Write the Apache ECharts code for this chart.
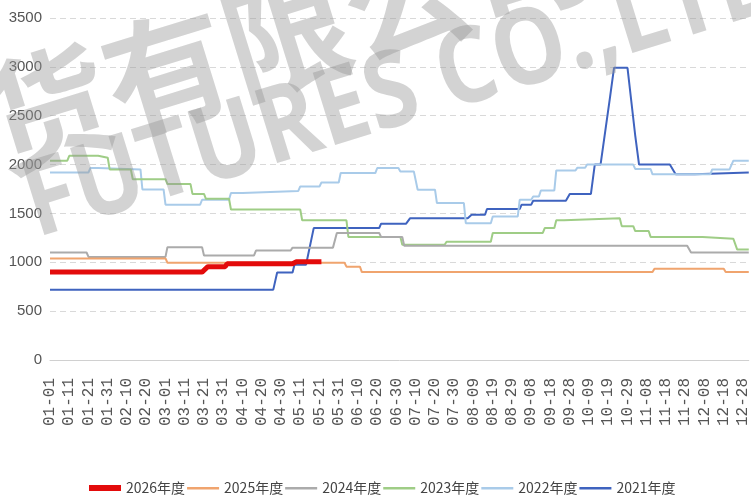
<!DOCTYPE html>
<html>
<head>
    <meta charset="utf-8" />
    <title>年度价格对比</title>
    <script src="https://cdn.jsdelivr.net/npm/echarts@6/dist/echarts.min.js"></script>
    <style type="text/css">
        html, body { margin: 0; padding: 0; background: #fff; }
        #chart { width: 751px; height: 503px; }
    </style>
</head>
<body>
    <div id="chart"></div>
    <script>
        // 图例名称
        var seriesNames = ['2026年度', '2025年度', '2024年度', '2023年度', '2022年度', '2021年度'];
        var seriesColors = ['#e30b0b', '#f0a46e', '#ababab', '#9fcd86', '#a9cbe9', '#3f63bf'];

        // 分段数据: [起始序号, 结束序号, 数值]，序号对应下面的日期类目
        var s2026 = [[0, 79, 900], [82, 91, 955], [92, 126, 985], [128, 141, 1005]];
        var s2025 = [[0, 60, 1040], [61, 153, 995], [154, 161, 955], [162, 313, 900], [314, 350, 935], [351, 363, 900]];
        var s2024 = [[0, 19, 1100], [20, 60, 1055], [61, 79, 1155], [80, 106, 1070], [107, 125, 1120], [126, 147, 1150],
            [149, 171, 1300], [172, 183, 1260], [184, 331, 1170], [333, 363, 1100]];
        var s2023 = [[0, 9, 2040], [10, 25, 2090], [26, 30, 2070], [31, 42, 1950], [43, 60, 1850], [61, 73, 1800],
            [74, 80, 1700], [81, 93, 1650], [94, 130, 1540], [131, 154, 1430], [155, 182, 1260], [183, 205, 1180],
            [206, 229, 1210], [230, 256, 1300], [257, 262, 1350], [263, 267, 1430], [268, 296, 1450], [297, 303, 1370],
            [304, 311, 1320], [312, 339, 1260], [340, 355, 1240], [357, 363, 1130]];
        var s2022 = [[0, 20, 1920], [21, 25, 1965], [26, 47, 1950], [48, 59, 1745], [60, 78, 1590], [79, 93, 1640],
            [94, 100, 1710], [101, 129, 1730], [130, 140, 1776], [141, 150, 1817], [151, 169, 1913], [170, 181, 1965],
            [182, 189, 1930], [191, 200, 1743], [201, 215, 1606], [216, 229, 1400], [230, 243, 1469], [244, 250, 1640],
            [251, 254, 1674], [255, 262, 1735], [263, 273, 1940], [274, 278, 1968], [279, 303, 2000], [304, 312, 1955],
            [313, 343, 1900], [344, 353, 1950], [355, 363, 2040]];
        var s2021 = [[0, 116, 720], [118, 126, 895], [127, 133, 975], [137, 171, 1350], [172, 185, 1395], [187, 217, 1450],
            [219, 226, 1486], [227, 244, 1545], [245, 250, 1590], [251, 268, 1630], [270, 281, 1700], [283, 286, 2000],
            [291, 292, 2700], [293, 300, 2990], [304, 305, 2300], [306, 322, 2000], [325, 335, 1900], [336, 363, 1920]];
        var seriesSegs = [s2026, s2025, s2024, s2023, s2022, s2021];

        // y轴刻度
        var yMin = 0, yMax = 3500, yStep = 500;

        // 日期类目（闰年，缺 05-01 与 10-01）
        var monthDays = [31, 29, 31, 30, 31, 30, 31, 31, 30, 31, 30, 31];
        var skipDates = ['05-01', '10-01'];
        var dates = [];
        for (var m = 0; m < 12; m++) {
            for (var d = 1; d <= monthDays[m]; d++) {
                var s = (m < 9 ? '0' : '') + (m + 1) + '-' + (d < 10 ? '0' : '') + d;
                if (skipDates.indexOf(s) < 0) dates.push(s);
            }
        }

        function toPoints(segs) {
            var pts = [];
            segs.forEach(function (g) {
                pts.push([g[0], g[2]]);
                pts.push([g[1], g[2]]);
            });
            return pts;
        }

        var series = seriesNames.map(function (name, i) {
            return {
                name: name,
                type: 'line',
                data: toPoints(seriesSegs[i]),
                symbol: 'none',
                z: 10 - i,
                lineStyle: { color: seriesColors[i], width: i === 0 ? 5 : 2 },
                itemStyle: { color: seriesColors[i] }
            };
        });

        // 图例线段：红色粗线，其余细线（两角加极小的点撑开高度）
        var thickIcon = 'path://M0,0 L32,0 L32,6 L0,6 Z';
        var thinIcon = 'path://M0,0 L0.01,0 L0.01,0.01 Z M0,2 L32,2 L32,4.4 L0,4.4 Z M31.99,5.99 L32,5.99 L32,6 Z';
        var legendData = seriesNames.map(function (name, i) {
            return { name: name, icon: i === 0 ? thickIcon : thinIcon };
        });

        var chart = echarts.init(document.getElementById('chart'));
        var option = {
            animation: false,
            grid: { left: 50, right: 1, top: 18, bottom: 143 },
            xAxis: {
                type: 'category',
                data: dates,
                boundaryGap: false,
                axisLine: { lineStyle: { color: '#d0d0d0', width: 1 } },
                axisTick: { show: false },
                axisLabel: {
                    interval: 9,
                    rotate: 90,
                    margin: 18,
                    fontSize: 16,
                    fontFamily: 'Liberation Mono',
                    color: '#555'
                },
                splitLine: { show: false }
            },
            yAxis: {
                type: 'value',
                min: yMin,
                max: yMax,
                interval: yStep,
                axisLine: { show: false },
                axisTick: { show: false },
                axisLabel: {
                    margin: 8,
                    fontSize: 15,
                    fontFamily: 'Liberation Sans',
                    color: '#555',
                    formatter: function (v) { return String(v); }
                },
                splitLine: { lineStyle: { color: '#d9d9d9', type: [6, 4] } }
            },
            legend: {
                data: legendData,
                bottom: 3,
                left: 84,
                itemWidth: 32,
                itemHeight: 6,
                itemGap: 2,
                textStyle: { fontSize: 14, fontFamily: 'Noto Sans CJK SC', color: '#444' }
            },
            graphic: [
                {
                    type: 'text', x: -150, y: 104, rotation: 0.3, z: 100,
                    style: { text: '期货有限公司', font: 'bold 125px "Noto Sans CJK SC"', fill: 'rgba(150,150,150,0.42)' }
                },
                {
                    type: 'text', x: 12, y: 158, rotation: 0.3, scaleX: 0.87, z: 100,
                    style: { text: 'FUTURES CO.,LTD', font: 'bold 106px "Open Sans"', fill: 'rgba(150,150,150,0.42)' }
                }
            ],
            series: series
        };
        chart.setOption(option);
    </script>
</body>
</html>
